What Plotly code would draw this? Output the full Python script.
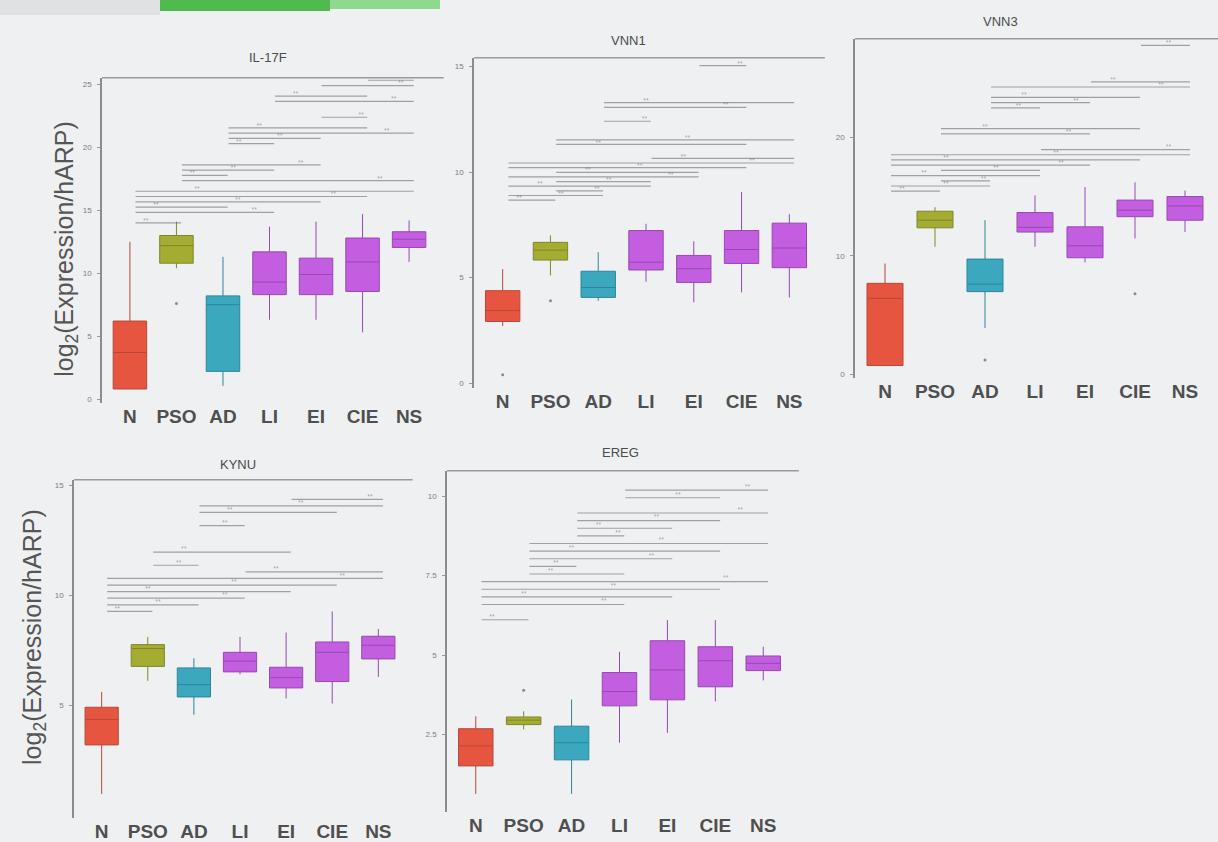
import plotly.graph_objects as go

# ---- data -------------------------------------------------------------
categories = ["N", "PSO", "AD", "LI", "EI", "CIE", "NS"]

# IL-17F
il17f_q1 = [0.8, 10.8, 2.2, 8.3, 8.3, 8.55, 12.05]
il17f_median = [3.7, 12.2, 7.5, 9.3, 9.9, 10.9, 12.7]
il17f_q3 = [6.2, 13.0, 8.2, 11.7, 11.2, 12.8, 13.3]
il17f_lo = [0.8, 10.4, 1.05, 6.3, 6.3, 5.3, 10.9]
il17f_hi = [12.5, 14.1, 11.3, 13.7, 14.1, 14.7, 14.2]
il17f_outliers = [(1, 7.6)]
il17f_pairs = [(0, 1, 0), (0, 3, 2), (0, 2, 3), (0, 4, 4), (0, 5, 5), (0, 6, 6),
               (1, 6, 8), (1, 2, 9), (1, 3, 10), (1, 4, 11), (2, 3, 15), (2, 4, 16),
               (2, 6, 17), (2, 5, 18), (4, 5, 20), (3, 6, 23), (3, 5, 24), (4, 6, 26),
               (5, 6, 27)]

# VNN1
vnn1_q1 = [2.92, 5.83, 4.06, 5.36, 4.77, 5.67, 5.47]
vnn1_median = [3.44, 6.3, 4.53, 5.73, 5.42, 6.33, 6.4]
vnn1_q3 = [4.38, 6.67, 5.3, 7.23, 6.05, 7.23, 7.58]
vnn1_lo = [2.7, 5.1, 3.9, 4.8, 3.83, 4.3, 4.06]
vnn1_hi = [5.4, 7.0, 6.2, 7.55, 6.72, 9.06, 8.0]
vnn1_outliers = [(0, 0.4), (1, 3.9)]
vnn1_pairs = [(0, 1, 0), (0, 2, 1), (1, 2, 2), (0, 3, 3), (1, 3, 4), (0, 4, 5),
              (1, 4, 6), (0, 5, 7), (0, 6, 8), (3, 6, 9), (1, 5, 12), (1, 6, 13),
              (2, 3, 17), (2, 5, 20), (2, 6, 21), (4, 5, 29)]

# VNN3
vnn3_q1 = [0.73, 12.36, 6.97, 12.0, 9.83, 13.3, 13.0]
vnn3_median = [6.4, 13.0, 7.6, 12.4, 10.84, 13.85, 14.2]
vnn3_q3 = [7.67, 13.76, 9.72, 13.65, 12.44, 14.7, 15.0]
vnn3_lo = [0.73, 10.76, 3.9, 10.76, 9.44, 11.46, 12.0]
vnn3_hi = [9.35, 14.1, 13.0, 15.1, 15.8, 16.2, 15.5]
vnn3_outliers = [(2, 1.2), (5, 6.8)]
vnn3_pairs = [(0, 1, 0), (0, 2, 1), (1, 2, 2), (0, 3, 3), (1, 3, 4), (0, 4, 5),
              (0, 5, 6), (0, 6, 7), (3, 6, 8), (1, 4, 11), (1, 5, 12), (2, 3, 16),
              (2, 4, 17), (2, 5, 18), (2, 6, 20), (4, 6, 21), (5, 6, 28)]

# KYNU
kynu_q1 = [3.19, 6.76, 5.37, 6.51, 5.78, 6.07, 7.1]
kynu_median = [4.34, 7.57, 5.93, 7.0, 6.25, 7.4, 7.72]
kynu_q3 = [4.9, 7.75, 6.69, 7.4, 6.72, 7.87, 8.13]
kynu_lo = [0.96, 6.1, 4.56, 6.4, 5.3, 5.07, 6.28]
kynu_hi = [5.6, 8.1, 7.13, 8.1, 8.3, 9.26, 8.46]
kynu_outliers = []
kynu_pairs = [(0, 1, 0), (0, 2, 1), (0, 3, 2), (0, 4, 3), (0, 5, 4), (0, 6, 5),
              (3, 6, 6), (1, 2, 7), (1, 4, 9), (2, 3, 13), (2, 5, 15), (2, 6, 16),
              (4, 6, 17)]

# EREG
ereg_q1 = [1.51, 2.81, 1.70, 3.4, 3.59, 4.0, 4.51]
ereg_median = [2.14, 2.95, 2.24, 3.85, 4.53, 4.82, 4.74]
ereg_q3 = [2.68, 3.05, 2.76, 4.45, 5.45, 5.26, 4.97]
ereg_lo = [0.63, 2.66, 0.63, 2.24, 2.55, 3.54, 4.2]
ereg_hi = [3.07, 3.23, 3.6, 5.1, 6.1, 6.1, 5.26]
ereg_outliers = [(1, 3.89)]
ereg_pairs = [(0, 1, 0), (0, 3, 2), (0, 4, 3), (0, 5, 4), (0, 6, 5), (1, 3, 6),
              (1, 2, 7), (1, 4, 8), (1, 5, 9), (1, 6, 10), (2, 3, 11), (2, 4, 12),
              (2, 5, 13), (2, 6, 14), (3, 5, 16), (3, 6, 17)]

il17f_ticks = [0, 5, 10, 15, 20, 25]
vnn1_ticks = [0, 5, 10, 15]
vnn3_ticks = [0, 10, 20]
kynu_ticks = [5, 10, 15]
ereg_ticks = [2.5, 5, 7.5, 10]

panels = [
    ("IL-17F", il17f_q1, il17f_median, il17f_q3, il17f_lo, il17f_hi, il17f_outliers, il17f_pairs, il17f_ticks),
    ("VNN1", vnn1_q1, vnn1_median, vnn1_q3, vnn1_lo, vnn1_hi, vnn1_outliers, vnn1_pairs, vnn1_ticks),
    ("VNN3", vnn3_q1, vnn3_median, vnn3_q3, vnn3_lo, vnn3_hi, vnn3_outliers, vnn3_pairs, vnn3_ticks),
    ("KYNU", kynu_q1, kynu_median, kynu_q3, kynu_lo, kynu_hi, kynu_outliers, kynu_pairs, kynu_ticks),
    ("EREG", ereg_q1, ereg_median, ereg_q3, ereg_lo, ereg_hi, ereg_outliers, ereg_pairs, ereg_ticks),
]

# ---- styling ----------------------------------------------------------
W, H = 1218, 842
fill_colors = ["#e6553f", "#a5ac32", "#3ba8c0", "#c35ee0", "#c35ee0", "#c35ee0", "#c35ee0"]
edge_colors = ["#b9473a", "#7f872a", "#2e8598", "#9748b3", "#9748b3", "#9748b3", "#9748b3"]

# plot-area boxes in pixels: (left, right, top, bottom), y range, bracket base & step,
# title position
layout_specs = [
    dict(px=(102, 437, 78, 405), yr=(-0.32, 25.55), base=14.0, step=0.42, title=(268, 58)),
    dict(px=(474, 818, 58, 390), yr=(-0.24, 15.42), base=8.67, step=0.22, title=(628, 41)),
    dict(px=(855, 1215, 39, 380), yr=(-0.34, 28.32), base=15.45, step=0.44, title=(1000, 22)),
    dict(px=(74, 406, 482, 822), yr=(-0.14, 15.25), base=9.26, step=0.30, title=(238, 467)),
    dict(px=(447, 792, 473, 816), yr=(0.055, 10.8), base=6.11, step=0.24, title=(620, 455)),
]

fig = go.Figure()
layout = dict(
    width=W, height=H,
    margin=dict(l=0, r=0, t=0, b=0),
    paper_bgcolor="#eef0f2",
    plot_bgcolor="rgba(0,0,0,0)",
    showlegend=False,
    shapes=[], annotations=[],
)

for k, (name, q1, med, q3, lo, hi, outl, pairs, ticks) in enumerate(panels):
    n = k + 1
    sfx = "" if n == 1 else str(n)
    xa, ya = f"x{sfx}", f"y{sfx}"
    spec = layout_specs[k]
    left, right, top, bottom = spec["px"]

    for i, cat in enumerate(categories):
        fig.add_trace(go.Box(
            x=[i], q1=[q1[i]], median=[med[i]], q3=[q3[i]],
            lowerfence=[lo[i]], upperfence=[hi[i]],
            fillcolor=fill_colors[i], line=dict(color=edge_colors[i], width=1),
            width=0.72, whiskerwidth=0, boxpoints=False,
            xaxis=xa, yaxis=ya, name=cat, hoverinfo="skip",
        ))

    if outl:
        fig.add_trace(go.Scatter(
            x=[o[0] for o in outl], y=[o[1] for o in outl], mode="markers",
            marker=dict(size=3, color="#8a8a8a"), xaxis=xa, yaxis=ya, hoverinfo="skip",
        ))

    # significance brackets stacked above the boxes; star marks alternate
    # along the line so neighbouring levels do not collide
    bx, by, tx, ty = [], [], [], []
    for a, b, lvl in pairs:
        yv = spec["base"] + lvl * spec["step"]
        bx += [a + 0.12, b + 0.1, None]
        by += [yv, yv, None]
        frac = (0.22, 0.55, 0.85)[lvl % 3]
        tx.append(a + 0.12 + (b - a) * frac)
        ty.append(yv + spec["step"] * 0.45)
    fig.add_trace(go.Scatter(
        x=bx, y=by, mode="lines", line=dict(color="rgba(95,95,95,0.55)", width=1.2),
        xaxis=xa, yaxis=ya, hoverinfo="skip",
    ))
    fig.add_trace(go.Scatter(
        x=tx, y=ty, mode="text", text=["**"] * len(tx),
        textfont=dict(size=5, color="rgba(110,110,110,0.7)"),
        xaxis=xa, yaxis=ya, hoverinfo="skip",
    ))

    layout[f"xaxis{sfx}"] = dict(
        domain=[left / W, right / W], anchor=ya, range=[-0.6, 6.6],
        tickvals=list(range(len(categories))), ticktext=categories,
        tickfont=dict(family="Liberation Sans", size=19, color="#4f4f4f", weight="bold"),
        showgrid=False, zeroline=False, showline=False, ticks="",
    )
    layout[f"yaxis{sfx}"] = dict(
        domain=[1 - bottom / H, 1 - top / H], anchor=xa, range=list(spec["yr"]),
        tickvals=ticks, tickfont=dict(family="Liberation Sans", size=8, color="#7d7d7d"),
        ticks="outside", ticklen=3, tickcolor="#9a9a9a", ticklabelstandoff=4,
        showgrid=False, zeroline=False, showline=True, linecolor="#8c8c8c", linewidth=1.5,
    )
    # top frame line
    layout["shapes"].append(dict(
        type="line", xref=f"{xa} domain", yref=f"{ya} domain",
        x0=0.0, x1=1.02, y0=1, y1=1, line=dict(color="#9a9a9a", width=1.5),
    ))
    layout["annotations"].append(dict(
        text=name, x=spec["title"][0] / W, y=1 - spec["title"][1] / H,
        xref="paper", yref="paper", showarrow=False, xanchor="center", yanchor="middle",
        font=dict(family="Liberation Sans", size=13, color="#4c4c4c"),
    ))

# shared y-axis titles
for (xp, yp) in [(66, 250), (34, 640)]:
    layout["annotations"].append(dict(
        text="log<sub>2</sub>(Expression/hARP)", x=xp / W, y=1 - yp / H,
        xref="paper", yref="paper", showarrow=False, textangle=-90,
        xanchor="center", yanchor="middle",
        font=dict(family="Liberation Sans", size=25, color="#555555"),
    ))

# slide header strip
layout["shapes"].append(dict(type="rect", xref="paper", yref="paper",
                             x0=0, x1=160 / W, y0=1 - 15 / H, y1=1,
                             fillcolor="#dfe1e3", line=dict(width=0), layer="below"))
layout["shapes"].append(dict(type="rect", xref="paper", yref="paper",
                             x0=160 / W, x1=330 / W, y0=1 - 11 / H, y1=1,
                             fillcolor="#4fbb4f", line=dict(width=0), layer="below"))
layout["shapes"].append(dict(type="rect", xref="paper", yref="paper",
                             x0=330 / W, x1=440 / W, y0=1 - 9 / H, y1=1,
                             fillcolor="#8fd88f", line=dict(width=0), layer="below"))

fig.update_layout(**layout)
fig.write_html("out.html")
